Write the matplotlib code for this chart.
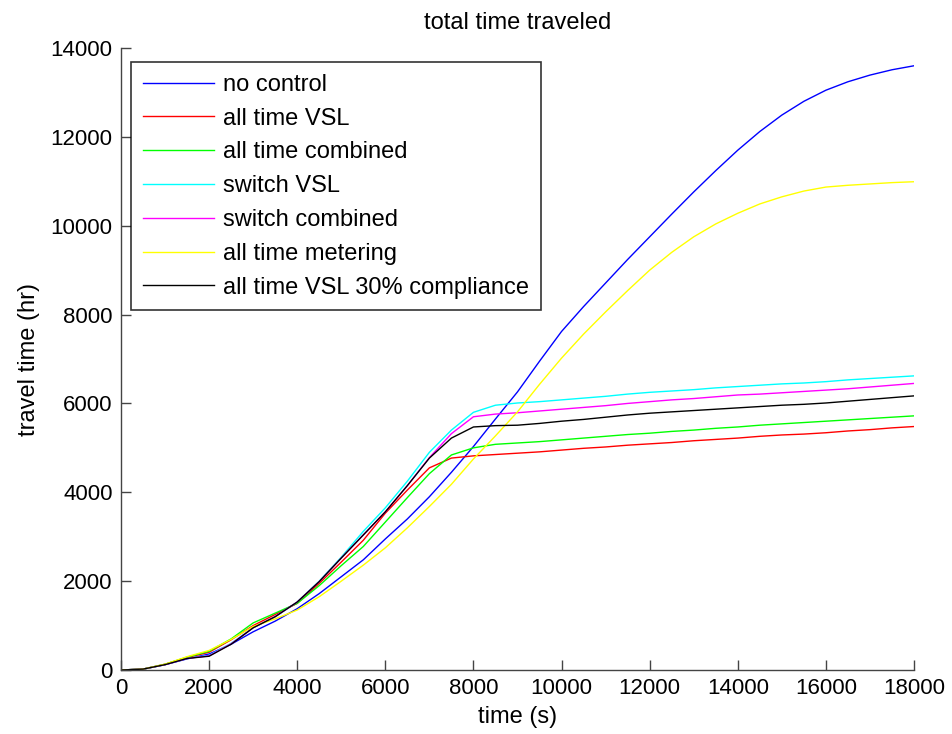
import matplotlib
matplotlib.use("Agg")
import matplotlib.pyplot as plt

plt.rcParams['font.family'] = ['Liberation Sans', 'DejaVu Sans']

t = [0, 500, 1000, 1500, 2000, 2500, 3000, 3500, 4000, 4500, 5000, 5500, 6000,
     6500, 7000, 7500, 8000, 8500, 9000, 9500, 10000, 10500, 11000, 11500, 12000,
     12500, 13000, 13500, 14000, 14500, 15000, 15500, 16000, 16500, 17000, 17500,
     18000]

no_control = [0, 20, 120, 250, 360, 580, 860, 1100, 1380, 1720, 2100, 2480, 2950,
              3400, 3900, 4450, 5030, 5650, 6260, 6950, 7620, 8180, 8710, 9240, 9750,
              10260, 10760, 11240, 11700, 12120, 12490, 12800, 13050, 13240, 13390,
              13510, 13600]
all_time_vsl = [0, 20, 130, 280, 400, 680, 1000, 1250, 1500, 1950, 2430, 2920, 3530,
                4050, 4550, 4770, 4820, 4850, 4880, 4910, 4950, 4990, 5020, 5060, 5090,
                5120, 5160, 5190, 5220, 5260, 5290, 5310, 5340, 5380, 5410, 5450, 5480]
all_time_combined = [0, 20, 130, 290, 420, 700, 1060, 1280, 1500, 1900, 2350, 2780, 3330,
                     3880, 4420, 4840, 5000, 5080, 5110, 5140, 5180, 5220, 5260, 5300,
                     5330, 5370, 5400, 5440, 5470, 5510, 5540, 5570, 5600, 5630, 5660,
                     5690, 5720]
switch_vsl = [0, 20, 120, 260, 330, 600, 950, 1200, 1530, 2000, 2540, 3120, 3650,
              4250, 4900, 5400, 5800, 5960, 6010, 6040, 6080, 6120, 6160, 6210, 6250,
              6280, 6310, 6350, 6380, 6410, 6440, 6460, 6490, 6530, 6560, 6590, 6620]
switch_combined = [0, 20, 120, 260, 320, 590, 950, 1200, 1530, 1990, 2520, 3040, 3560,
                   4150, 4780, 5320, 5700, 5760, 5790, 5830, 5870, 5910, 5950, 6000,
                   6040, 6080, 6110, 6150, 6190, 6210, 6240, 6270, 6300, 6330, 6370,
                   6410, 6450]
all_time_metering = [0, 20, 130, 300, 440, 690, 980, 1150, 1350, 1650, 2000, 2360, 2750,
                     3200, 3680, 4180, 4750, 5270, 5810, 6430, 7020, 7560, 8060, 8540,
                     9000, 9400, 9750, 10040, 10280, 10490, 10650, 10780, 10870, 10910,
                     10940, 10970, 10990]
vsl_30_compliance = [0, 20, 120, 260, 310, 580, 950, 1200, 1530, 1990, 2520, 3040, 3560,
                     4150, 4770, 5220, 5470, 5500, 5510, 5550, 5600, 5640, 5690, 5740,
                     5780, 5810, 5840, 5870, 5900, 5930, 5960, 5980, 6010, 6050, 6090,
                     6130, 6170]

labels = ['no control', 'all time VSL', 'all time combined', 'switch VSL',
          'switch combined', 'all time metering', 'all time VSL 30% compliance']
series = [no_control, all_time_vsl, all_time_combined, switch_vsl,
          switch_combined, all_time_metering, vsl_30_compliance]
colors = ['#0000ff', '#ff0000', '#00ff00', '#00ffff', '#ff00ff', '#ffff00', '#000000']

fig = plt.figure(figsize=(9.53, 7.34), dpi=100)
ax = fig.add_axes([121/953, 1 - 670/734, (914 - 121)/953, (670 - 48)/734])

for y, c, lab in zip(series, colors, labels):
    ax.plot(t, y, color=c, lw=1.0, label=lab)

ax.set_xlim(0, 18000)
ax.set_ylim(0, 14000)
ax.set_xticks(range(0, 18001, 2000))
ax.set_yticks(range(0, 14001, 2000))
ax.tick_params(direction='in', length=7, width=1, labelsize=16, colors='#444444',
               labelcolor='black', pad=6)
for s in ['top', 'right']:
    ax.spines[s].set_visible(False)
for s in ['left', 'bottom']:
    ax.spines[s].set_color('#444444')
    ax.spines[s].set_linewidth(1)

ax.set_title('total time traveled', fontsize=17, pad=14)
ax.set_xlabel('time (s)', fontsize=17, labelpad=5)
ax.set_ylabel('travel time (hr)', fontsize=17, labelpad=8)

leg = ax.legend(loc='upper left', bbox_to_anchor=(10/793, 1 - 14/622),
                borderaxespad=0, fontsize=17, frameon=True, fancybox=False,
                edgecolor='black', borderpad=0.5, labelspacing=0.5,
                handlelength=3.0, handletextpad=0.4)
leg.get_frame().set_linewidth(1.2)

fig.savefig('out.png', dpi=100)
